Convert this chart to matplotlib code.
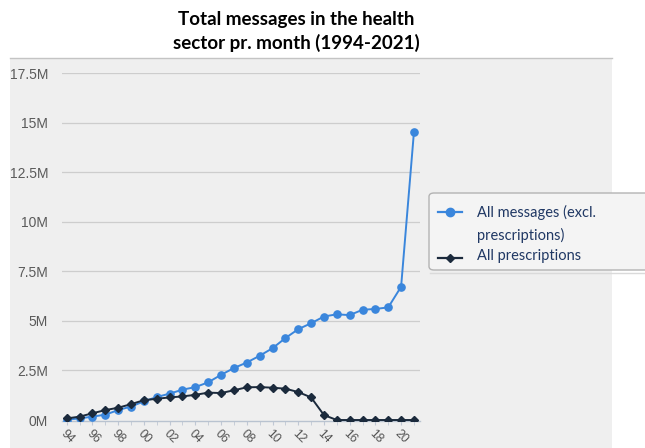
# Total messages in the health sector per month, 1994-2021
import matplotlib.pyplot as plt
from matplotlib.lines import Line2D
from matplotlib.patches import Rectangle, FancyBboxPatch

years = list(range(1994, 2022))
# values in millions
all_messages = [0.02, 0.08, 0.17, 0.27, 0.50, 0.68, 0.94, 1.16, 1.33, 1.53,
                1.66, 1.90, 2.28, 2.62, 2.90, 3.24, 3.62, 4.13, 4.58, 4.88,
                5.22, 5.33, 5.29, 5.56, 5.60, 5.68, 6.72, 14.53]
prescriptions = [0.08, 0.17, 0.34, 0.50, 0.62, 0.80, 1.00, 1.07, 1.14, 1.19,
                 1.27, 1.38, 1.36, 1.50, 1.65, 1.66, 1.63, 1.58, 1.41, 1.14,
                 0.25, 0.0, 0.0, 0.0, 0.0, 0.0, 0.0, 0.0]

tick_years = list(range(1994, 2021, 2))
tick_labels = [f"{y % 100:02d}" for y in tick_years]
y_ticks = [0, 2.5, 5, 7.5, 10, 12.5, 15, 17.5]
y_labels = ["0M", "2.5M", "5M", "7.5M", "10M", "12.5M", "15M", "17.5M"]
title_lines = ["Total messages in the health", "sector pr. month (1994-2021)"]

blue = "#3a86dc"
navy = "#1b2a3c"
text_navy = "#203864"

W, H = 645, 448
fig = plt.figure(figsize=(W / 100, H / 100), dpi=100)
fig.patch.set_facecolor("white")

def fx(px):
    return px / W

def fy(py):
    return 1 - py / H

# gray chart panel
fig.add_artist(Rectangle((fx(10), 0), fx(612) - fx(10), fy(58), transform=fig.transFigure,
                         facecolor="#efefef", edgecolor="none", zorder=0))
fig.add_artist(Line2D([fx(10), fx(612)], [fy(58), fy(58)], transform=fig.transFigure,
                      color="#c4c4c4", lw=1, zorder=1))

ax = fig.add_axes([fx(62), fy(421), fx(420) - fx(62), fy(73) - fy(421)])
ax.set_facecolor("none")
ax.set_xlim(1993.63, 2021.47)
ax.set_ylim(-0.05, 17.5)

for v in y_ticks[1:]:
    ax.axhline(v, color="#cdcdcd", lw=0.9, zorder=1)

ax.plot(years, all_messages, color=blue, lw=1.4, marker="o", markersize=5.2, zorder=3)
ax.plot(years, prescriptions, color=navy, lw=1.4, marker="D", markersize=3.6, zorder=4)

for s in ["top", "right", "left"]:
    ax.spines[s].set_visible(False)
ax.spines["bottom"].set_color("#b9c3d0")
ax.spines["bottom"].set_linewidth(1)

ax.set_yticks(y_ticks)
ax.set_yticklabels(y_labels, fontsize=10, color="#5a5a5a", fontfamily="Liberation Sans")
ax.tick_params(axis="y", length=0, pad=10)

ax.set_xticks(tick_years)
ax.set_xticks(years, minor=True)
ax.set_xticklabels(tick_labels, fontsize=8.8, color="#555555", fontfamily="Liberation Sans",
                   rotation=-45, ha="left", va="top", rotation_mode="anchor")
ax.tick_params(axis="x", which="both", length=3, color="#c0c8d4", pad=1.5)

# title
for line, py in zip(title_lines, [19, 43]):
    fig.text(fx(296), fy(py), line, ha="center", va="center", fontsize=13.5,
             fontweight="bold", fontfamily="Lato", color="black")

# legend box
fig.add_artist(FancyBboxPatch((fx(429), fy(270)), fx(660) - fx(429), fy(193) - fy(270),
                              boxstyle="round,pad=0,rounding_size=0.008",
                              transform=fig.transFigure, facecolor="#f4f4f4",
                              edgecolor="#b3b3b3", lw=1, zorder=2))
fig.add_artist(Line2D([fx(430), fx(645)], [fy(273), fy(273)], transform=fig.transFigure,
                      color="#dadada", lw=1, zorder=2))
fig.add_artist(Line2D([fx(438), fx(462)], [fy(212), fy(212)], transform=fig.transFigure,
                      color=blue, lw=1.6, zorder=3))
fig.add_artist(Line2D([fx(450)], [fy(212)], transform=fig.transFigure, color=blue,
                      marker="o", markersize=6, zorder=3))
fig.add_artist(Line2D([fx(438), fx(462)], [fy(258), fy(258)], transform=fig.transFigure,
                      color=navy, lw=1.6, zorder=3))
fig.add_artist(Line2D([fx(450)], [fy(258)], transform=fig.transFigure, color=navy,
                      marker="D", markersize=4.2, zorder=3))
for label, py in [("All messages (excl.", 212), ("prescriptions)", 235), ("All prescriptions", 256)]:
    fig.text(fx(477), fy(py), label, ha="left", va="center", fontsize=10.5,
             fontfamily="Lato", color=text_navy, zorder=4)

fig.savefig("out.png", dpi=100)
